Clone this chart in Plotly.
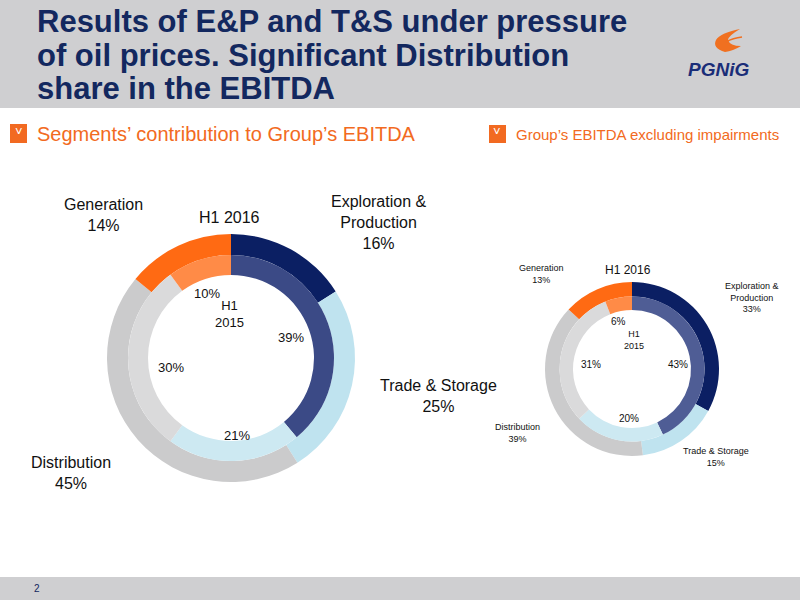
import plotly.graph_objects as go

# ---------------- data ----------------
segments = ["Exploration & Production", "Trade & Storage", "Distribution", "Generation"]
left_h1_2016 = [16, 25, 45, 14]
left_h1_2015 = [39, 21, 30, 10]
right_h1_2016 = [33, 15, 39, 13]
right_h1_2015 = [43, 20, 31, 6]

outer_colors = ["#0b1f63", "#bfe3ef", "#cbcbcc", "#ff6a13"]
inner_colors_left = ["#3b4a86", "#cde9f2", "#dadadb", "#ff8b47"]
inner_colors_right = ["#4f5d95", "#cde9f2", "#dadadb", "#ff8b47"]

W, H = 800, 600
FONT = "Liberation Sans, Arial, sans-serif"
NAVY = "#13285f"
ORANGE = "#f26a21"


def dom(cx, cy, r):
    # pixel centre/radius -> paper domain
    return dict(x=[(cx - r) / W, (cx + r) / W], y=[(H - cy - r) / H, (H - cy + r) / H])


def ring(values, colors, cx, cy, r, hole):
    return go.Pie(
        labels=segments, values=values, sort=False, direction="clockwise", rotation=0,
        hole=hole, domain=dom(cx, cy, r), textinfo="none", hoverinfo="skip",
        marker=dict(colors=colors, line=dict(width=0)), showlegend=False,
    )


fig = go.Figure()
# left donut
LCX, LCY = 231, 358
fig.add_trace(ring(left_h1_2016, outer_colors, LCX, LCY, 124, 103 / 124))
fig.add_trace(ring(left_h1_2015, inner_colors_left, LCX, LCY, 103, 83 / 103))
# right donut
RCX, RCY = 632, 369
fig.add_trace(ring(right_h1_2016, outer_colors, RCX, RCY, 87, 72.5 / 87))
fig.add_trace(ring(right_h1_2015, inner_colors_right, RCX, RCY, 72.5, 59 / 72.5))

ann = []


def txt(x, y, s, size, color="#111111", bold=False, anchor="center", family=FONT, italic=False):
    if bold:
        s = "<b>" + s + "</b>"
    if italic:
        s = "<i>" + s + "</i>"
    ann.append(dict(x=x / W, y=1 - y / H, xref="paper", yref="paper", text=s, showarrow=False,
                    xanchor=anchor, yanchor="middle", align="center",
                    font=dict(size=size, color=color, family=family)))


# title
txt(35, 22, "Results of E&P and T&S under pressure", 31, NAVY, bold=True, anchor="left")
txt(35, 55, "of oil prices. Significant Distribution", 31, NAVY, bold=True, anchor="left")
txt(35, 88, "share in the EBITDA", 31, NAVY, bold=True, anchor="left")

# logo text
txt(718, 69, "PGNiG", 19, "#1a2d78", bold=True, italic=True)

# subtitles
txt(35, 134, "Segments’ contribution to Group’s EBITDA", 20, ORANGE, anchor="left")
txt(514, 134, "Group’s EBITDA excluding impairments", 15, ORANGE, anchor="left")
txt(18.5, 132, "˅", 13, "white")
txt(497.5, 132, "˅", 13, "white")


def pct(v):
    return f"{v}%"


# left donut labels
txt(103, 215, "Generation<br>" + pct(left_h1_2016[3]), 16)
txt(229, 218, "H1 2016", 16)
txt(378, 222, "Exploration &<br>Production<br>" + pct(left_h1_2016[0]), 16)
txt(438, 396, "Trade & Storage<br>" + pct(left_h1_2016[1]), 16)
txt(71, 473, "Distribution<br>" + pct(left_h1_2016[2]), 16)
txt(207, 293, pct(left_h1_2015[3]), 13)
txt(230, 314, "H1<br>2015", 13)
txt(291, 337, pct(left_h1_2015[0]), 13)
txt(171, 367, pct(left_h1_2015[2]), 13)
txt(237, 435, pct(left_h1_2015[1]), 13)

# right donut labels
txt(541, 274, "Generation<br>" + pct(right_h1_2016[3]), 9)
txt(628, 270, "H1 2016", 12)
txt(752, 297, "Exploration &<br>Production<br>" + pct(right_h1_2016[0]), 9)
txt(716, 457, "Trade & Storage<br>" + pct(right_h1_2016[1]), 9)
txt(517, 433, "Distribution<br>" + pct(right_h1_2016[2]), 9)
txt(618, 321, pct(right_h1_2015[3]), 10)
txt(634, 340, "H1<br>2015", 9)
txt(678, 365, pct(right_h1_2015[0]), 10)
txt(591, 365, pct(right_h1_2015[2]), 10)
txt(629, 418, pct(right_h1_2015[1]), 10)

# footer page number
txt(37, 588, "2", 10, NAVY)

shapes = [
    dict(type="rect", xref="paper", yref="paper", x0=0, x1=1, y0=1 - 108 / H, y1=1,
         fillcolor="#cfcfd1", line=dict(width=0), layer="below"),
    dict(type="rect", xref="paper", yref="paper", x0=0, x1=1, y0=0, y1=1 - 577 / H,
         fillcolor="#cfcfd1", line=dict(width=0), layer="below"),
    dict(type="rect", xref="paper", yref="paper", x0=10 / W, x1=27 / W, y0=1 - 143 / H, y1=1 - 124 / H,
         fillcolor="#f26a21", line=dict(width=0)),
    dict(type="rect", xref="paper", yref="paper", x0=489 / W, x1=506 / W, y0=1 - 143 / H, y1=1 - 125 / H,
         fillcolor="#f26a21", line=dict(width=0)),
]


# logo flame: orange curved strokes (pixel coords -> paper)
def P(x, y):
    return f"{x / W:.5f},{1 - y / H:.5f}"


flame = ("M " + P(725, 52) + " Q " + P(712, 48) + " " + P(716, 40) + " Q " + P(720, 33) + " " + P(740, 29)
         + " Q " + P(728, 36) + " " + P(728, 40) + " Q " + P(730, 46) + " " + P(741, 46)
         + " Q " + P(733, 51) + " " + P(725, 52) + " Z")
shapes.append(dict(type="path", xref="paper", yref="paper", path=flame,
                   fillcolor="#f07020", line=dict(width=0)))
shapes.append(dict(type="path", xref="paper", yref="paper",
                   path="M " + P(726, 42) + " Q " + P(733, 38) + " " + P(742, 37),
                   line=dict(color="#f07020", width=1.5)))

fig.update_layout(
    width=W, height=H, margin=dict(l=0, r=0, t=0, b=0),
    paper_bgcolor="white", plot_bgcolor="white",
    annotations=ann, shapes=shapes, showlegend=False,
    font=dict(family=FONT),
)

fig.write_html(
    "out.html",
    config={"displayModeBar": False},
    post_script="document.body.style.margin='0';document.body.style.overflow='hidden';",
)
